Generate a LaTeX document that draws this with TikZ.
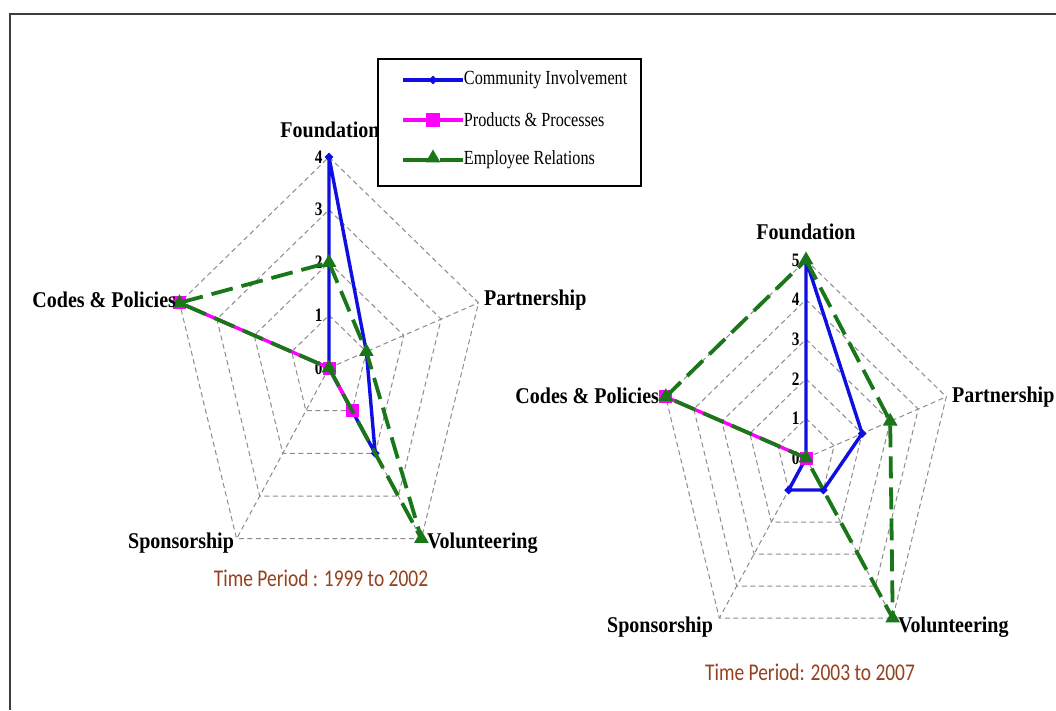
\documentclass[tikz,border=0pt]{standalone}
\usepackage{fontspec}
\setmainfont{Liberation Serif}
\newfontfamily\periodfont{Carlito}
\usetikzlibrary{shapes.geometric}

\definecolor{ciblue}{RGB}{15,15,225}
\definecolor{ppmag}{RGB}{255,0,255}
\definecolor{ergreen}{RGB}{25,118,25}
\definecolor{webgray}{RGB}{140,140,140}
\definecolor{periodbrown}{RGB}{150,65,30}
\definecolor{framegray}{RGB}{60,60,60}

\tikzset{
  webline/.style={webgray, line width=1pt, dash pattern=on 5pt off 3.5pt},
  ciline/.style={ciblue, line width=3.4pt, line join=round},
  ppline/.style={ppmag, line width=3.4pt, line join=round},
  erline/.style={ergreen, line width=3.8pt, dash pattern=on 22pt off 9pt, line join=round},
  cimark/.style={diamond, fill=ciblue, inner sep=0pt, minimum size=9pt},
  ppmark/.style={rectangle, fill=ppmag, inner sep=0pt, minimum size=13pt},
  ermark/.style={regular polygon, regular polygon sides=3, fill=ergreen, inner sep=0pt, minimum size=17pt},
  axislabel/.style={font=\bfseries\fontsize{22.5}{24}\selectfont, xscale=0.89, inner sep=1pt},
  levelnum/.style={font=\bfseries\fontsize{19}{20}\selectfont, xscale=0.8, inner sep=1pt},
  legendtext/.style={font=\fontsize{20}{22}\selectfont, xscale=0.81, anchor=west, inner sep=1pt},
  period/.style={font=\periodfont\fontsize{24}{26}\selectfont, xscale=0.81, text=periodbrown},
}

% web coordinates: name, centre x, centre y, unit length per level
% axis 0 Foundation, 1 Partnership, 2 Volunteering, 3 Sponsorship, 4 Codes & Policies
\newcommand\webpoints[4]{%
  \foreach \k in {0,...,4}{\foreach \r in {0,...,5}{%
    \coordinate (#1\k-\r) at ({#2+\r*#4*0.745*cos(90-72*\k)},{#3-\r*#4*sin(90-72*\k)});}}}

\begin{document}
\begin{tikzpicture}[x=1pt,y=-1pt]
\path[use as bounding box, fill=white] (0,0) rectangle (1056,710);

% frame
\draw[framegray, line width=2.5pt] (10,710) -- (10,14) -- (1056,14);

\webpoints{A}{329}{368}{52.75}
\webpoints{B}{806}{458}{39.6}

% grids
\foreach \r in {1,...,4}
  \draw[webline] (A0-\r) -- (A1-\r) -- (A2-\r) -- (A3-\r) -- (A4-\r) -- cycle;
\foreach \k in {0,...,4}
  \draw[webline] (A\k-0) -- (A\k-4);
\foreach \r in {1,...,5}
  \draw[webline] (B0-\r) -- (B1-\r) -- (B2-\r) -- (B3-\r) -- (B4-\r) -- cycle;
\foreach \k in {0,...,4}
  \draw[webline] (B\k-0) -- (B\k-5);

% level numbers
\foreach \r in {0,...,4}
  \node[levelnum, left=7pt] (Anum\r) at (A0-\r) {\r};
\foreach \r in {0,...,5}
  \node[levelnum, left=7pt] (Bnum\r) at (B0-\r) {\r};

% 1999 to 2002
\draw[ciline] (A0-4) -- (A1-1) -- (A2-2) -- (A3-0) -- (A4-0) -- cycle;
\foreach \p in {A0-4,A1-1,A2-2,A3-0} \node[cimark] at (\p) {};
\draw[ppline] (A0-0) -- (A1-0) -- (A2-1) -- (A3-0) -- (A4-4) -- cycle;
\foreach \p in {A0-0,A2-1,A4-4} \node[ppmark] at (\p) {};
\draw[erline] (A0-2) -- (A1-1) -- (A2-4) -- (A3-0) -- (A4-4) -- cycle;
\foreach \p in {A0-2,A1-1,A2-4,A3-0,A4-4} \node[ermark] at (\p) {};

% 2003 to 2007
\draw[ciline] (B0-5) -- (B1-2) -- (B2-1) -- (B3-1) -- (B4-0) -- cycle;
\foreach \p in {B0-5,B1-2,B2-1,B3-1,B4-0} \node[cimark] at (\p) {};
\draw[ppline] (B0-0) -- (B1-0) -- (B2-0) -- (B3-0) -- (B4-5) -- cycle;
\foreach \p in {B0-0,B4-5} \node[ppmark] at (\p) {};
\draw[erline] (B0-5) -- (B1-3) -- (B2-5) -- (B3-0) -- (B4-5) -- cycle;
\foreach \p in {B0-5,B1-3,B2-5,B3-0,B4-5} \node[ermark] at (\p) {};

% axis labels
\node[axislabel] (Afound) at (330,130) {Foundation};
\node[axislabel, anchor=west] (Apart) at (483,300) {Partnership};
\node[axislabel, anchor=east] (Acodes) at (177,300) {Codes \& Policies};
\node[axislabel, anchor=east] (Aspons) at (235,543) {Sponsorship};
\node[axislabel, anchor=west] (Avol) at (426,543) {Volunteering};
\node[period] (Aperiod) at (321,578) {Time Period : 1999 to 2002};

\node[axislabel] (Bfound) at (806,232) {Foundation};
\node[axislabel, anchor=west] (Bpart) at (951,397) {Partnership};
\node[axislabel, anchor=east] (Bcodes) at (660,396) {Codes \& Policies};
\node[axislabel, anchor=east] (Bspons) at (714,627) {Sponsorship};
\node[axislabel, anchor=west] (Bvol) at (897,627) {Volunteering};
\node[period] (Bperiod) at (810,672) {Time Period: 2003 to 2007};

% legend
\draw[black, line width=1.6pt, fill=white] (378,59) rectangle (641,186);
\coordinate (L1a) at (403,80);  \coordinate (L1b) at (463,80);
\coordinate (L2a) at (403,120); \coordinate (L2b) at (463,120);
\coordinate (L3a) at (403,160); \coordinate (L3b) at (463,160);
\draw[ciline] (L1a) -- (L1b);
\node[cimark] (L1m) at (433,80) {};
\node[legendtext] (L1t) at (L1b) {Community Involvement};
\draw[ppline] (L2a) -- (L2b);
\node[ppmark, minimum size=14pt] (L2m) at (433,120) {};
\node[legendtext] (L2t) at (L2b) {Products \& Processes};
\draw[ergreen, line width=4.5pt, dash pattern=on 25pt off 12pt on 30pt] (L3a) -- (L3b);
\node[ermark] (L3m) at (433,158) {};
\node[legendtext] (L3t) at (L3b) {Employee Relations};
\end{tikzpicture}
\end{document}
